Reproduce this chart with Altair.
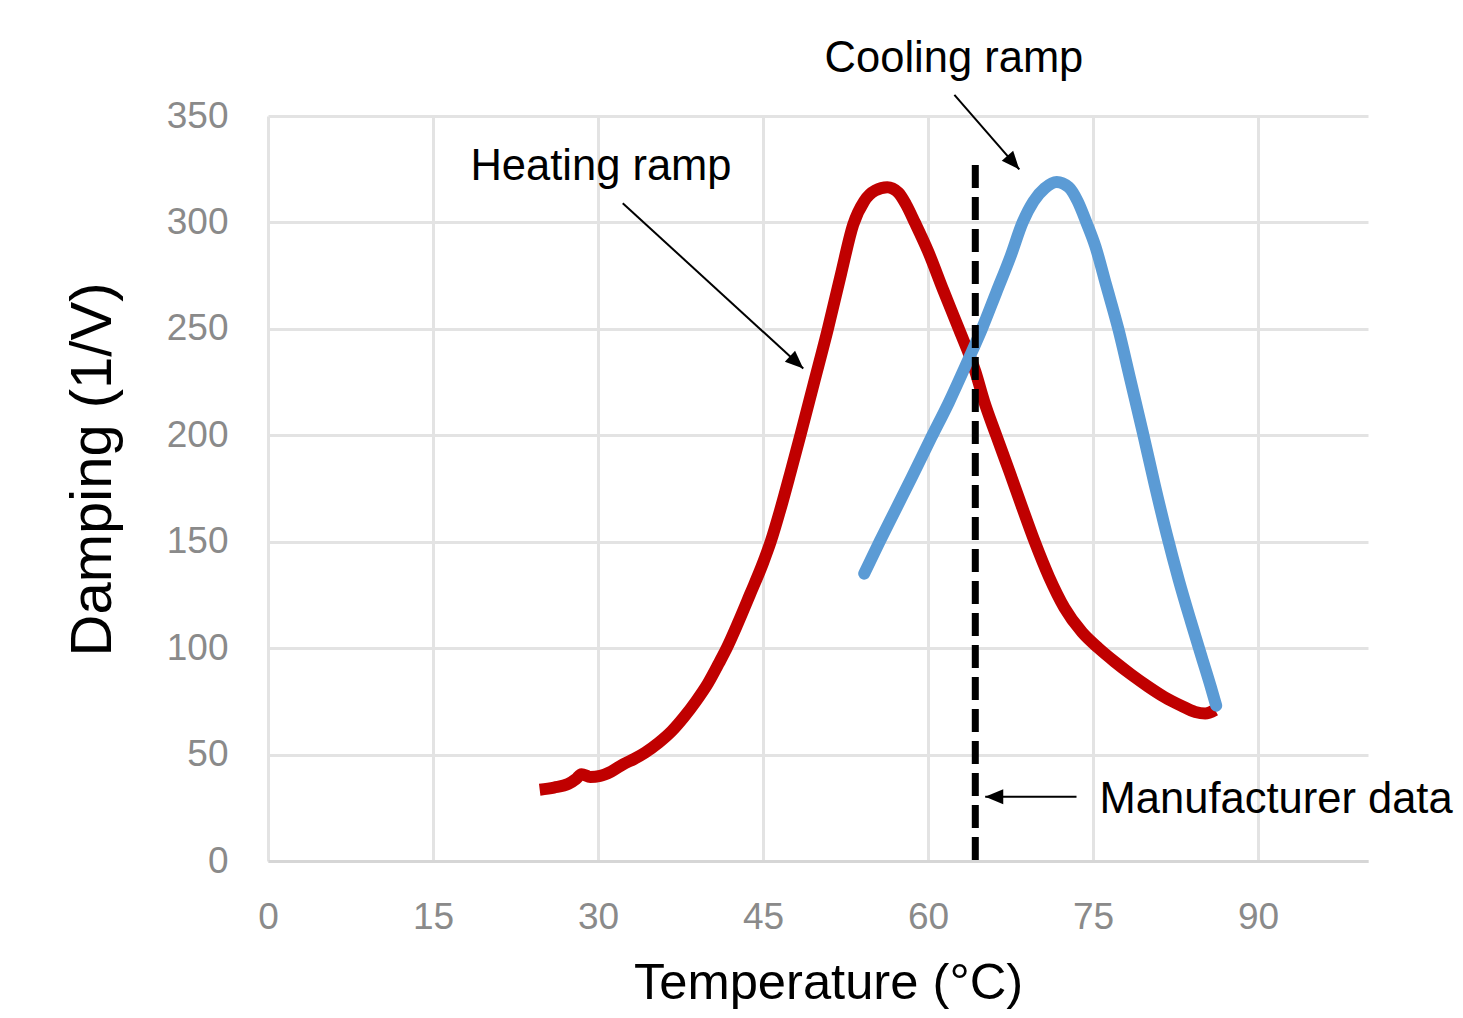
import altair as alt
import pandas as pd
import numpy as np

# ---------------- data ----------------
heat_t = [24.7, 26.0, 27.3, 28.0, 28.5, 29.3, 30.2, 31.2, 32.3, 33.3, 34.3, 35.5,
          36.7, 37.8, 38.9, 40.0, 41.0, 41.7, 42.7, 43.8, 45.0, 45.7, 46.6, 47.5,
          48.4, 49.6, 50.9, 52.1, 53.2, 54.2, 55.2, 56.3, 57.3, 58.0, 58.8, 60.0,
          61.4, 62.8, 64.3, 65.1, 66.2, 67.4, 68.5, 69.7, 71.0, 72.4, 74.0, 75.5,
          77.0, 78.5, 80.0, 81.5, 83.0, 84.3, 85.2, 86.1]
heat_d = [33.5, 34.5, 36.2, 38.5, 40.8, 39.5, 40.0, 42.0, 45.5, 48.0, 51.0, 55.5,
          61.0, 67.5, 75.0, 83.5, 93.0, 100.0, 111.5, 125.0, 140.0, 150.0, 165.5, 182.5,
          200.0, 224.0, 250.0, 276.0, 299.0, 310.0, 315.0, 316.5, 314.0, 308.5, 300.0, 286.5,
          268.0, 250.0, 230.0, 216.0, 200.0, 183.0, 167.0, 150.0, 133.5, 119.0, 107.5, 100.0,
          93.5, 87.5, 82.0, 77.0, 73.0, 70.0, 69.3, 71.0]

cool_t = [54.2, 55.6, 57.0, 58.5, 60.3, 61.9, 63.4, 64.9, 66.2, 67.5, 68.6, 69.6,
          70.6, 71.7, 72.8, 73.6, 74.4, 75.2, 76.2, 77.3, 78.4, 79.5, 80.6, 81.7,
          82.8, 83.9, 84.9, 85.7, 86.2]
cool_d = [135.0, 150.0, 164.5, 180.0, 199.0, 215.5, 232.5, 250.0, 267.0, 284.0, 300.0, 310.0,
          316.0, 319.0, 316.5, 310.0, 300.0, 289.0, 270.5, 250.0, 226.0, 202.0, 177.0, 153.5,
          132.0, 112.5, 95.5, 82.0, 73.0]

x_ticks = [0, 15, 30, 45, 60, 75, 90]
y_ticks = [0, 50, 100, 150, 200, 250, 300, 350]

manuf_t = [64.3]
manuf_top = [327]
manuf_bottom = [0]

label_text = ["Heating ramp", "Cooling ramp", "Manufacturer data"]
label_t = [18.4, 50.6, 75.6]
label_d = [319.9, 370.8, 22.7]

arrow_t0 = [32.25, 62.4, 73.5]
arrow_d0 = [309.0, 359.9, 30.2]
arrow_t1 = [48.66, 68.3, 65.2]
arrow_d1 = [231.4, 324.9, 30.2]

# ---------------- layout ----------------
W, H = 1100, 745
X_DOM, Y_DOM = [0, 100], [0, 350]
FONT = "Liberation Sans"

heat = pd.DataFrame({"t": heat_t, "d": heat_d, "i": range(len(heat_t))})
cool = pd.DataFrame({"t": cool_t, "d": cool_d, "i": range(len(cool_t))})
manuf = pd.DataFrame({"t": manuf_t, "d": manuf_top, "d2": manuf_bottom})
labels = pd.DataFrame({"t": label_t, "d": label_d, "label": label_text})

px_x = W / (X_DOM[1] - X_DOM[0])
px_y = H / (Y_DOM[1] - Y_DOM[0])
dx = (np.array(arrow_t1) - np.array(arrow_t0)) * px_x
dy = -(np.array(arrow_d1) - np.array(arrow_d0)) * px_y
angles = np.mod(np.degrees(np.arctan2(dx, -dy)), 360)
arrows = pd.DataFrame({"t": arrow_t0, "d": arrow_d0, "t2": arrow_t1, "d2": arrow_d1})
heads = pd.DataFrame({"t": arrow_t1, "d": arrow_d1, "angle": angles})

xs = alt.Scale(domain=X_DOM, nice=False, zero=False)
ys = alt.Scale(domain=Y_DOM, nice=False)

grid_col = "#e3e3e3"
x_axis = alt.Axis(values=x_ticks, title="Temperature (°C)", grid=True, gridColor=grid_col,
                  gridWidth=3, domain=True, domainColor="#d6d6d6", domainWidth=3,
                  ticks=False, labelFont=FONT, labelFontSize=37, labelColor="#8a8a8a",
                  labelPadding=38, labelFlush=False, labelOverlap=False,
                  titleFont=FONT, titleFontSize=50.7,
                  titleFontWeight="normal", titleColor="black", titleX=560, titleY=137,
                  titleAlign="center", titleBaseline="alphabetic")
y_axis = alt.Axis(values=y_ticks, title="Damping (1/V)", grid=True, gridColor=grid_col,
                  gridWidth=3, domain=False, ticks=False, labelFont=FONT,
                  labelFontSize=37, labelColor="#8a8a8a", labelPadding=40,
                  labelFlush=False, labelOverlap=False,
                  titleFont=FONT, titleFontSize=58, titleFontWeight="normal",
                  titleColor="black", titleAngle=270, titleX=-158, titleY=353,
                  titleAlign="center", titleBaseline="alphabetic")


def X(field="t"):
    return alt.X(f"{field}:Q", scale=xs, axis=x_axis)


def Y(field="d"):
    return alt.Y(f"{field}:Q", scale=ys, axis=y_axis)


heat_line = alt.Chart(heat).mark_line(color="#C00000", strokeWidth=12,
                                      interpolate="monotone", strokeCap="butt").encode(
    x=X(), y=Y(), order=alt.Order("i:Q"),
)

cool_line = alt.Chart(cool).mark_line(color="#5B9BD5", strokeWidth=12,
                                      interpolate="monotone", strokeCap="round").encode(
    x=X(), y=Y(), order=alt.Order("i:Q"),
)

manuf_line = alt.Chart(manuf).mark_rule(color="black", strokeWidth=7,
                                        strokeDash=[23, 9], strokeCap="butt").encode(
    x=X(), y=Y(), y2="d2:Q",
)

arrow_lines = alt.Chart(arrows).mark_rule(color="black", strokeWidth=2).encode(
    x=X(), y=Y(), x2="t2:Q", y2="d2:Q",
)

arrow_heads = alt.Chart(heads).mark_point(
    shape="M0,0 L-0.42,1 L0.42,1 Z", filled=True, color="black", size=1300, opacity=1,
    strokeWidth=0,
).encode(
    x=X(), y=Y(), angle=alt.Angle("angle:Q", scale=None),
)

texts = alt.Chart(labels).mark_text(align="left", baseline="alphabetic", font=FONT,
                                    fontSize=43.5, color="black").encode(
    x=X(), y=Y(), text="label:N",
)

chart = alt.layer(heat_line, cool_line, manuf_line, arrow_lines, arrow_heads, texts).properties(
    width=W, height=H,
    autosize=alt.AutoSizeParams(type="none"),
    padding={"left": 260, "top": 108, "right": 87, "bottom": 149},
).configure_view(stroke=None)

chart.save("out.html", embed_options={"renderer": "svg", "actions": False})
